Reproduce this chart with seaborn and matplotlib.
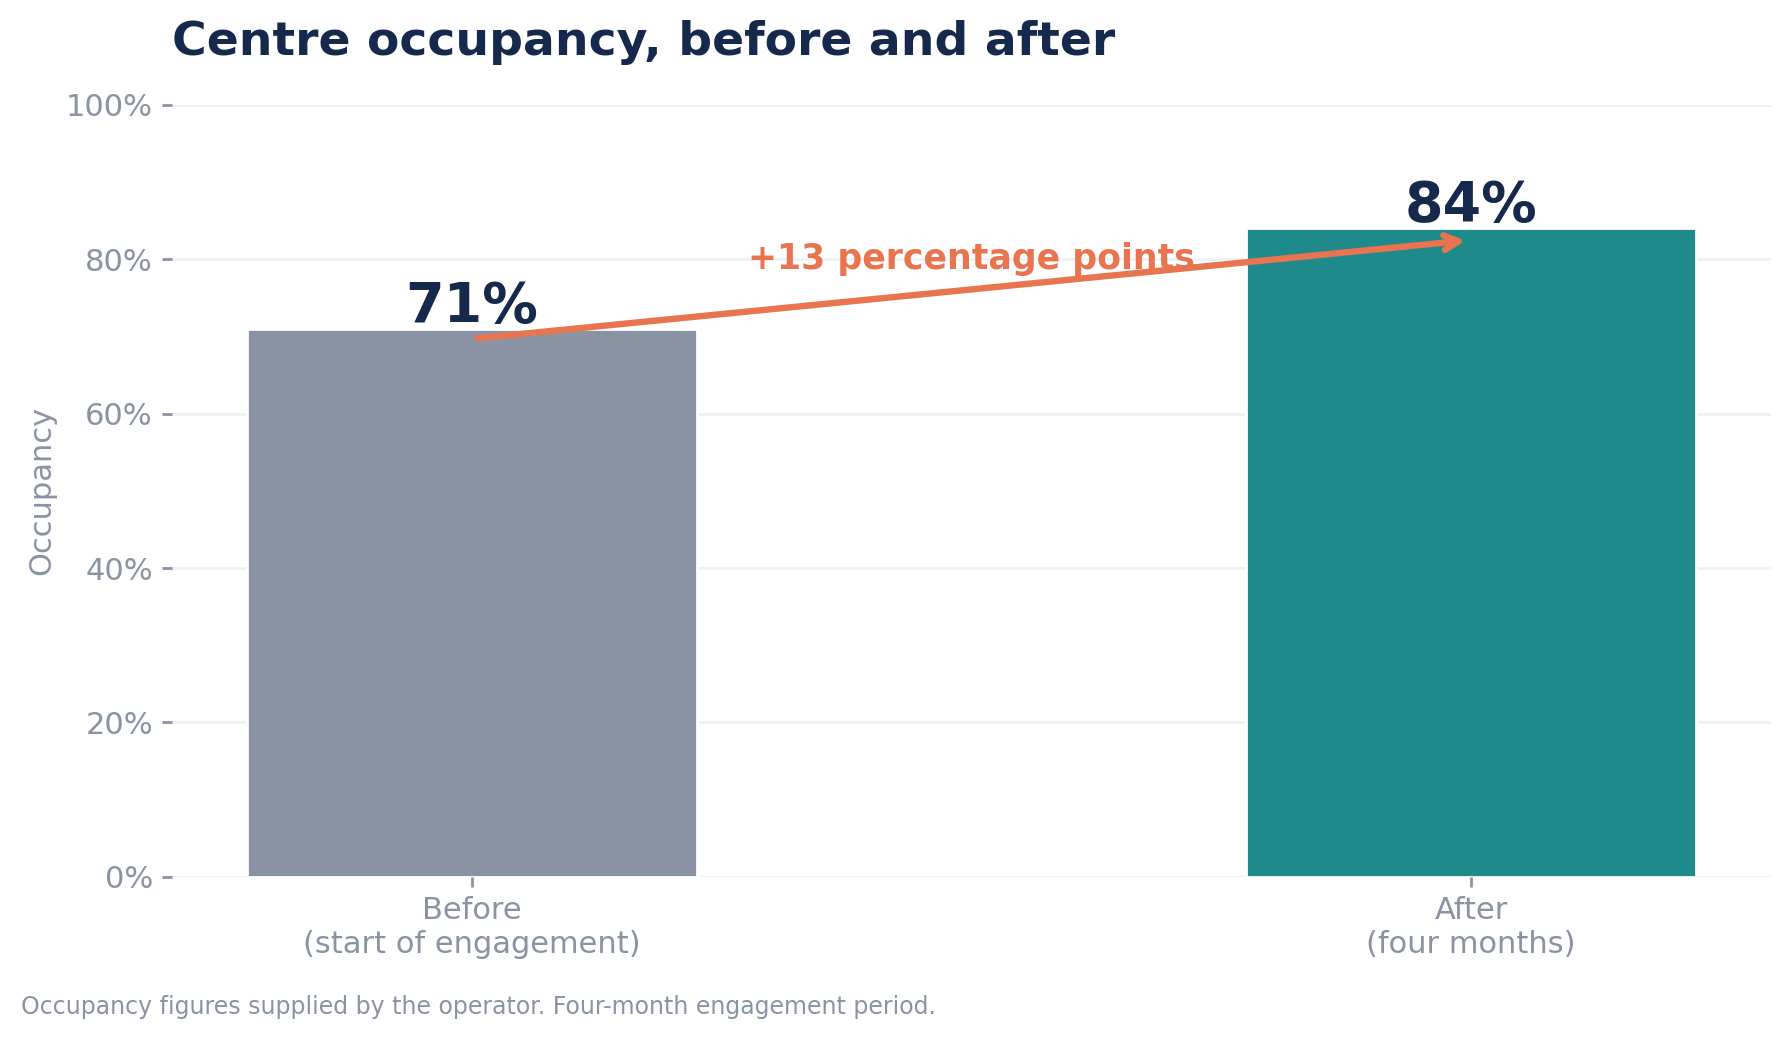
import matplotlib
matplotlib.use("Agg")
import matplotlib.pyplot as plt
import seaborn as sns
import pandas as pd
from matplotlib.ticker import PercentFormatter

# ---- data ----
categories = ["Before", "After"]
tick_labels = ["Before\n(start of engagement)", "After\n(four months)"]
occupancy = [0.71, 0.84]
bar_colors = ["#8a93a3", "#1f8a8a"]
yticks = [0.0, 0.2, 0.4, 0.6, 0.8, 1.0]
change_label = "+13 percentage points"
title = "Centre occupancy, before and after"
ylabel = "Occupancy"
footnote = "Occupancy figures supplied by the operator. Four-month engagement period."

NAVY = "#14294b"
GREY = "#8a93a3"
ORANGE = "#e8754f"
GRID = "#eef1f5"

sns.set_theme(style="white")
plt.rcParams["font.family"] = ["DejaVu Sans"]

df = pd.DataFrame({"stage": categories, "occupancy": occupancy})

fig = plt.figure(figsize=(8.94, 5.195), dpi=200)
ax = fig.add_axes([0.0964, 0.1562, 0.894, 0.7428])

sns.barplot(data=df, x="stage", y="occupancy", hue="stage",
            palette=dict(zip(categories, bar_colors)), width=0.45,
            saturation=1, legend=False, ax=ax, zorder=2)

ax.set_xlim(-0.3, 1.3)
ax.set_ylim(0, 1.0)
ax.set_yticks(yticks)
ax.yaxis.set_major_formatter(PercentFormatter(1.0, decimals=0))
ax.set_xticks(range(len(categories)))
ax.set_xticklabels(tick_labels)

for s in ax.spines.values():
    s.set_visible(False)
ax.set_axisbelow(True)
ax.yaxis.grid(True, color=GRID, lw=1)
ax.xaxis.grid(False)

ax.tick_params(axis="both", colors=GREY, labelsize=11, length=3.5, width=1,
               bottom=True, left=True)
ax.set_xlabel("")
ax.set_ylabel(ylabel, fontsize=11, color=GREY, labelpad=3.5)

# value labels
for i, v in enumerate(occupancy):
    ax.annotate(f"{v:.0%}", (i, v), xytext=(0, 2.5), textcoords="offset points",
                ha="center", va="baseline", fontsize=20, fontweight="bold",
                color=NAVY)

# change arrow
ax.annotate("", xy=(1.0, occupancy[1] - 0.015), xytext=(0, occupancy[0] - 0.013),
            arrowprops=dict(arrowstyle="->", color=ORANGE, lw=2.3,
                            mutation_scale=13, shrinkA=2, shrinkB=2,
                            capstyle="round", joinstyle="round"),
            zorder=4)
ax.text(0.5, 0.80, change_label, ha="center", va="center", fontsize=12.5,
        fontweight="bold", color=ORANGE, zorder=5)

ax.set_title(title, loc="left", fontsize=17, fontweight="bold", color=NAVY, pad=18)

fig.text(0.0115, 0.0237, footnote, fontsize=8.5, color=GREY, va="baseline", ha="left")

fig.savefig("out.png", dpi=200)
